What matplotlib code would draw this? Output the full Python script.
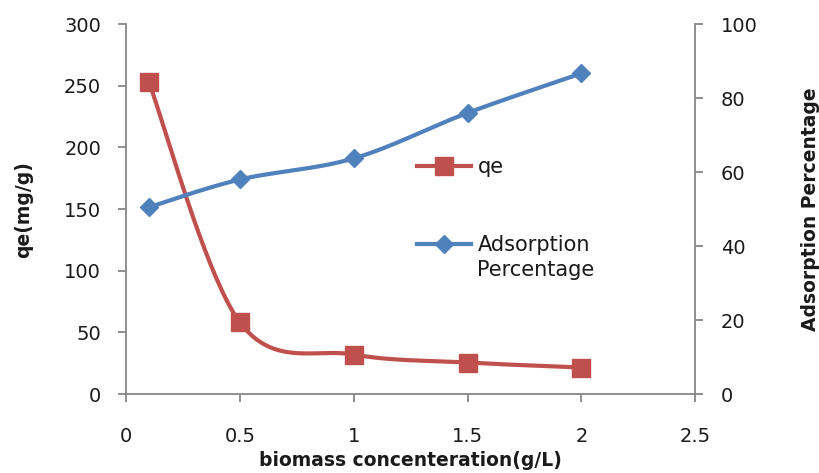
import numpy as np
import matplotlib
matplotlib.use("Agg")
import matplotlib.pyplot as plt
from matplotlib.lines import Line2D

x_vals = [0.1, 0.5, 1.0, 1.5, 2.0]
qe_vals = [253, 58, 32, 25.5, 21.5]
ads_vals = [50.5, 58, 63.7, 76, 86.7]
x_ticks = [0, 0.5, 1, 1.5, 2, 2.5]
x_tick_labels = ["0", "0.5", "1", "1.5", "2", "2.5"]
qe_ticks = [0, 50, 100, 150, 200, 250, 300]
ads_ticks = [0, 20, 40, 60, 80, 100]

RED = "#C0504D"
BLUE = "#4F81BD"
AX = "#868686"
TXT = "#1a1a1a"


def smooth(xs, ys, n=40):
    xs = np.asarray(xs, float)
    ys = np.asarray(ys, float)
    P = np.column_stack([xs, ys])
    out = []
    for i in range(len(P) - 1):
        p0 = P[i - 1] if i > 0 else P[i]
        p1 = P[i]
        p2 = P[i + 1]
        p3 = P[i + 2] if i + 2 < len(P) else P[i + 1]
        c1 = p1 + (p2 - p0) / 6
        c2 = p2 - (p3 - p1) / 6
        t = np.linspace(0, 1, n)[:, None]
        seg = ((1 - t) ** 3) * p1 + 3 * ((1 - t) ** 2) * t * c1 + 3 * (1 - t) * t ** 2 * c2 + t ** 3 * p2
        out.append(seg if i == 0 else seg[1:])
    B = np.vstack(out)
    return B[:, 0], B[:, 1]


fig = plt.figure(figsize=(8.19, 4.73), dpi=100)
ax = fig.add_axes([0.154, 0.167, 0.695, 0.782])
ax2 = ax.twinx()

sx, sy = smooth(x_vals, qe_vals)
ax.plot(sx, sy, color=RED, lw=3, solid_capstyle="round", zorder=3)
ax.plot(x_vals, qe_vals, ls="none", marker="s", ms=13, color=RED, zorder=4)

bx, by = smooth(x_vals, ads_vals)
ax2.plot(bx, by, color=BLUE, lw=3, solid_capstyle="round", zorder=3)
ax2.plot(x_vals, ads_vals, ls="none", marker="D", ms=9.5, color=BLUE, zorder=4)

ax.set_xlim(0, 2.5)
ax.set_ylim(0, 300)
ax2.set_ylim(0, 100)
ax.set_xticks(x_ticks)
ax.set_xticklabels(x_tick_labels)
ax.set_yticks(qe_ticks)
ax2.set_yticks(ads_ticks)

for a in (ax, ax2):
    a.spines["top"].set_visible(False)
    for s in ("left", "right", "bottom"):
        a.spines[s].set_color(AX)
        a.spines[s].set_linewidth(1.3)
    a.tick_params(direction="out", length=6, width=1.3, color=AX,
                  labelsize=14, labelcolor=TXT)
ax.spines["right"].set_visible(False)
ax2.spines["left"].set_visible(False)
ax2.spines["bottom"].set_visible(False)
ax.tick_params(axis="x", pad=18)
ax.tick_params(axis="y", pad=12)
ax2.tick_params(axis="y", pad=12.5)

ax.set_xlabel("biomass concenteration(g/L)", fontsize=13.5, fontweight="bold",
              labelpad=3, color=TXT)
ax.set_ylabel("qe(mg/g)", fontsize=13.5, fontweight="bold", labelpad=22, color=TXT)
ax2.set_ylabel("Adsorption Percentage", fontsize=13.5, fontweight="bold",
               labelpad=31, color=TXT)

fs_leg = 15
leg1 = fig.legend([Line2D([], [], color=RED, lw=3, marker="s", ms=13)], ["qe"],
                  loc="center left", bbox_to_anchor=(417 / 819, 1 - 167 / 473),
                  bbox_transform=fig.transFigure, frameon=False, fontsize=fs_leg,
                  borderpad=0, borderaxespad=0, handlelength=2.6, handletextpad=0.3)
leg2 = fig.legend([Line2D([], [], color=BLUE, lw=3, marker="D", ms=9.5),
                   Line2D([], [], color="none")],
                  ["Adsorption", "Percentage"],
                  loc="center left", bbox_to_anchor=(417 / 819, 1 - 257.5 / 473),
                  bbox_transform=fig.transFigure, frameon=False, fontsize=fs_leg,
                  borderpad=0, borderaxespad=0, handlelength=2.6, handletextpad=0.3,
                  labelspacing=0.2)
for t in leg1.get_texts() + leg2.get_texts():
    t.set_color(TXT)

fig.savefig("out.png", dpi=100)
